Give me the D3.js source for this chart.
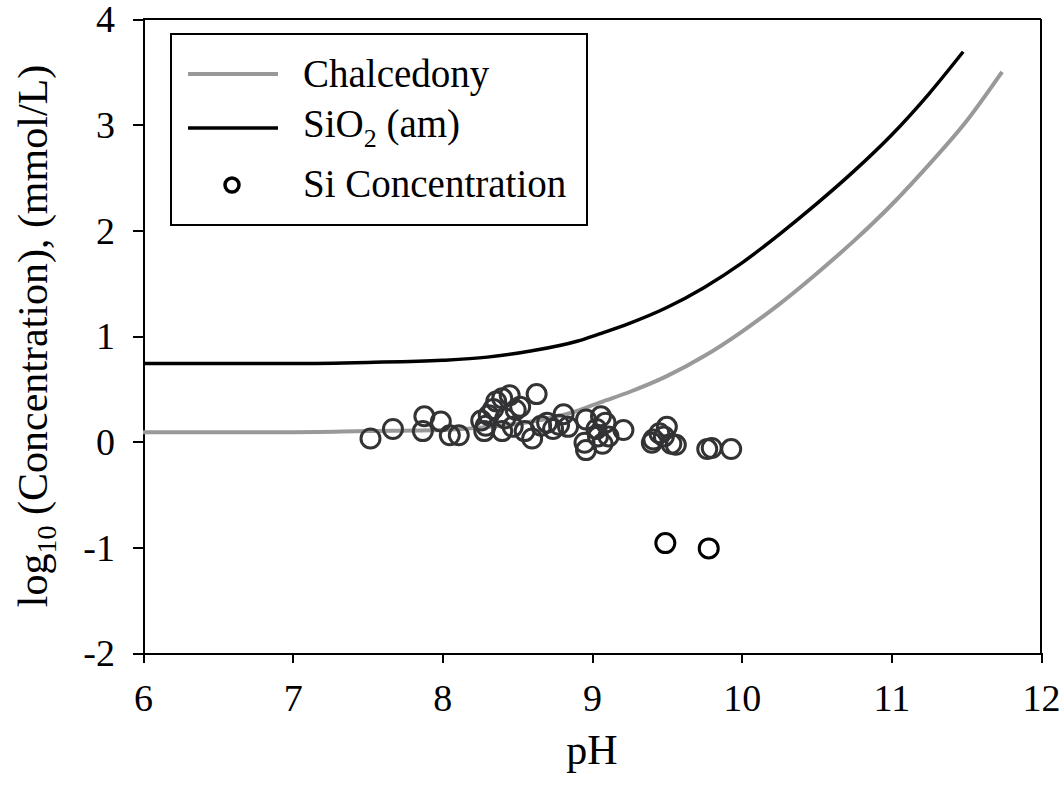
<!DOCTYPE html>
<html lang="en">
<head>
	<meta charset="UTF-8">
	<title>Si solubility vs pH</title>
	<script src="https://d3js.org/d3.v7.min.js"></script>
	<style>
		body {
			margin: 0;
			background-color: white;
		}
		svg {
			background-color: white;
			font-family: "Liberation Serif", "Times New Roman", serif;
		}
		.axis path,
		.axis line {
			fill: none;
			stroke: black;
			stroke-width: 2;
			shape-rendering: crispEdges;
		}
		.axis text {
			font-family: "Liberation Serif", serif;
			font-size: 38px;
			fill: black;
		}
	</style>
</head>
<body>
	<script>
		// solubility curves: [pH, log10 conc]
		var chalcedonyCurve = [
			[6.0, 0.09], [6.5, 0.09], [7.0, 0.09], [7.5, 0.10], [8.0, 0.11],
			[8.3, 0.14], [8.6, 0.19], [8.9, 0.29], [9.05, 0.37], [9.25, 0.47],
			[9.5, 0.62], [9.75, 0.81], [10.0, 1.04], [10.25, 1.30], [10.5, 1.59],
			[10.75, 1.90], [11.0, 2.24], [11.25, 2.62], [11.5, 3.03], [11.74, 3.5]
		];
		var sio2Curve = [
			[6.0, 0.74], [6.5, 0.74], [7.0, 0.74], [7.5, 0.75], [8.0, 0.77],
			[8.3, 0.80], [8.6, 0.86], [8.9, 0.95], [9.05, 1.02], [9.25, 1.12],
			[9.5, 1.27], [9.75, 1.46], [10.0, 1.69], [10.25, 1.96], [10.5, 2.25],
			[10.75, 2.56], [11.0, 2.90], [11.25, 3.29], [11.48, 3.69]
		];

		// measured Si concentration
		var siPH = [7.52, 7.67, 7.88, 7.87, 7.99, 8.05, 8.11, 8.26, 8.28, 8.29,
			8.31, 8.34, 8.36, 8.40, 8.42, 8.45, 8.47, 8.49, 8.40, 8.52,
			8.55, 8.60, 8.63, 8.66, 8.70, 8.74, 8.78, 8.81, 8.84, 8.96,
			8.95, 8.96, 9.03, 9.04, 9.06, 9.07, 9.09, 9.11, 9.21, 9.41,
			9.45, 9.48, 9.50, 9.40, 9.53, 9.56, 9.77, 9.80, 9.93, 9.49, 9.78];
		var siLog = [0.03, 0.12, 0.24, 0.10, 0.19, 0.06, 0.06, 0.20, 0.10, 0.15,
			0.25, 0.31, 0.38, 0.41, 0.22, 0.44, 0.14, 0.30, 0.10, 0.33,
			0.10, 0.03, 0.45, 0.15, 0.18, 0.12, 0.16, 0.26, 0.14, 0.21,
			-0.01, -0.08, 0.12, 0.05, 0.24, -0.02, 0.18, 0.05, 0.11, 0.02,
			0.08, 0.05, 0.14, -0.01, -0.02, -0.03, -0.07, -0.06, -0.07, -0.96, -1.01];

		var xTicks = [6, 7, 8, 9, 10, 11, 12];
		var yTicks = [-2, -1, 0, 1, 2, 3, 4];

		var W = 1061, H = 789;
		var margin = {top: 19, right: 20, bottom: 136, left: 143};
		var width = W - margin.left - margin.right,
			height = H - margin.top - margin.bottom;

		var svg = d3.select('body')
			.append('svg')
			.attr('width', W)
			.attr('height', H);

		var g = svg.append('g')
			.attr('transform', 'translate(' + margin.left + ',' + margin.top + ')');

		var x = d3.scaleLinear().domain([6, 12]).range([0, width]);
		var y = d3.scaleLinear().domain([-2, 4]).range([height, 0]);

		// frame top/right
		g.append('line')
			.attr('x1', 0).attr('x2', width).attr('y1', 0).attr('y2', 0)
			.attr('stroke', 'black').attr('stroke-width', 2);
		g.append('line')
			.attr('x1', width).attr('x2', width).attr('y1', 0).attr('y2', height)
			.attr('stroke', 'black').attr('stroke-width', 2);

		var xAxis = g.append('g')
			.attr('class', 'axis')
			.attr('transform', 'translate(0,' + height + ')')
			.call(d3.axisBottom(x).tickValues(xTicks).tickSize(10).tickSizeOuter(0)
				.tickFormat(function(d) { return String(d); }));
		xAxis.selectAll('text').attr('dy', 0).attr('y', 58);

		var yAxis = g.append('g')
			.attr('class', 'axis')
			.call(d3.axisLeft(y).tickValues(yTicks).tickSize(10).tickSizeOuter(0)
				.tickFormat(function(d) { return String(d); }));
		yAxis.selectAll('text').attr('x', -28).attr('dy', '0.34em');

		var line = d3.line()
			.x(function(d) { return x(d[0]); })
			.y(function(d) { return y(d[1]); })
			.curve(d3.curveMonotoneX);

		g.append('path')
			.datum(chalcedonyCurve)
			.attr('d', line)
			.attr('fill', 'none')
			.attr('stroke', '#999999')
			.attr('stroke-width', 4);

		g.append('path')
			.datum(sio2Curve)
			.attr('d', line)
			.attr('fill', 'none')
			.attr('stroke', 'black')
			.attr('stroke-width', 3.5);

		var pts = siPH.map(function(p, i) { return {ph: p, c: siLog[i]}; });
		g.selectAll('circle.si')
			.data(pts)
			.enter()
			.append('circle')
			.attr('class', 'si')
			.attr('cx', function(d) { return x(d.ph); })
			.attr('cy', function(d) { return y(d.c); })
			.attr('r', 9.5)
			.attr('fill', 'none')
			.attr('stroke', function(d) { return d.c < -0.5 ? '#000' : '#333335'; })
			.attr('stroke-width', 3);

		// axis titles
		svg.append('text')
			.attr('x', margin.left + width / 2)
			.attr('y', 764)
			.attr('text-anchor', 'middle')
			.attr('font-size', 42)
			.text('pH');

		var yt = svg.append('text')
			.attr('transform', 'translate(47,' + (margin.top + height / 2) + ') rotate(-90)')
			.attr('text-anchor', 'middle')
			.attr('font-size', 42);
		yt.append('tspan').text('log');
		yt.append('tspan').attr('font-size', 28).attr('dy', 9).text('10');
		yt.append('tspan').attr('dy', -9).text(' (Concentration), (mmol/L)');

		// legend
		var lg = svg.append('g');
		lg.append('rect')
			.attr('x', 171).attr('y', 34)
			.attr('width', 416).attr('height', 191)
			.attr('fill', 'white')
			.attr('stroke', 'black')
			.attr('stroke-width', 2);
		lg.append('line')
			.attr('x1', 188).attr('x2', 278).attr('y1', 74).attr('y2', 74)
			.attr('stroke', '#999999').attr('stroke-width', 4);
		lg.append('line')
			.attr('x1', 188).attr('x2', 278).attr('y1', 128).attr('y2', 128)
			.attr('stroke', 'black').attr('stroke-width', 3.5);
		lg.append('circle')
			.attr('cx', 232).attr('cy', 185).attr('r', 7)
			.attr('fill', 'none').attr('stroke', 'black').attr('stroke-width', 3.5);

		lg.append('text').attr('x', 303).attr('y', 87).attr('font-size', 39).text('Chalcedony');
		var s2 = lg.append('text').attr('x', 303).attr('y', 137).attr('font-size', 39);
		s2.append('tspan').text('SiO');
		s2.append('tspan').attr('font-size', 26).attr('dy', 10).text('2');
		s2.append('tspan').attr('dy', -10).text(' (am)');
		lg.append('text').attr('x', 303).attr('y', 197).attr('font-size', 39).text('Si Concentration');
	</script>
</body>
</html>
